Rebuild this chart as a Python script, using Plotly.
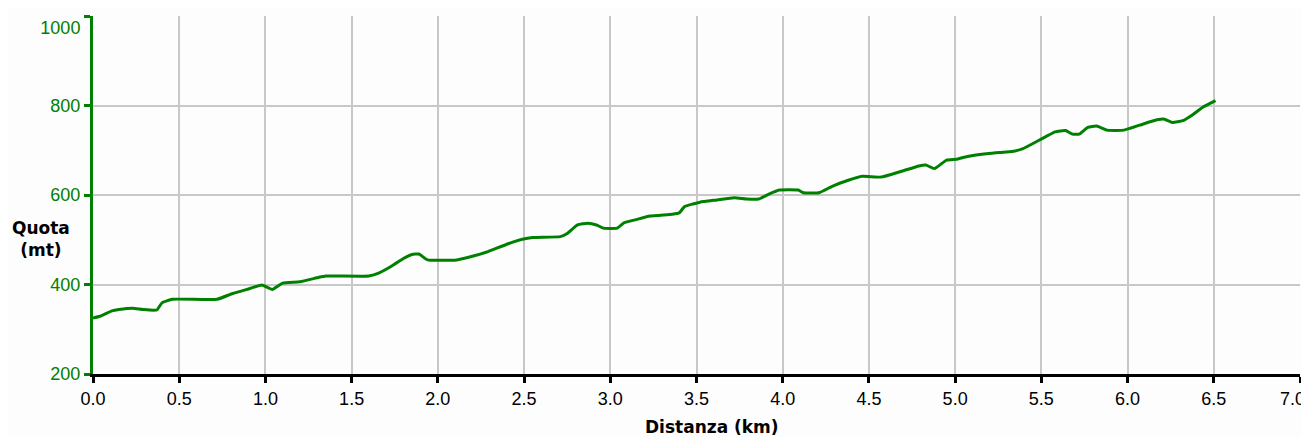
import plotly.graph_objects as go

# Distance (km) and elevation (m) read from the profile
distanza_km = [0.00, 0.04, 0.11, 0.15, 0.23, 0.29, 0.37, 0.40, 0.46, 0.72, 0.81, 0.91, 0.98, 1.04,
               1.10, 1.20, 1.31, 1.35, 1.60, 1.66, 1.74, 1.80, 1.85, 1.89, 1.94, 2.11, 2.20, 2.28,
               2.40, 2.49, 2.55, 2.71, 2.75, 2.81, 2.87, 2.92, 2.96, 3.04, 3.08, 3.15, 3.23, 3.36,
               3.40, 3.43, 3.48, 3.52, 3.62, 3.72, 3.79, 3.86, 3.92, 3.98, 4.09, 4.12, 4.21, 4.29,
               4.38, 4.46, 4.57, 4.68, 4.79, 4.83, 4.88, 4.95, 5.01, 5.07, 5.18, 5.26, 5.33, 5.39,
               5.49, 5.58, 5.64, 5.68, 5.72, 5.77, 5.82, 5.88, 5.98, 6.07, 6.17, 6.21, 6.26, 6.32,
               6.38, 6.44, 6.51]
quota_mt = [325, 329, 341, 344, 347, 344, 343, 359, 367, 367, 380, 391, 399, 389,
            403, 406, 416, 419, 419, 426, 443, 458, 467, 468, 455, 455, 463, 472,
            490, 501, 505, 507, 514, 533, 537, 533, 526, 526, 538, 545, 553, 557,
            560, 574, 580, 584, 589, 594, 591, 591, 602, 611, 611, 605, 605, 620,
            633, 642, 640, 652, 665, 667, 659, 678, 680, 686, 692, 695, 697, 703,
            723, 741, 744, 736, 736, 751, 754, 745, 745, 756, 768, 770, 762, 766,
            780, 797, 811]

x_ticks = [0.0, 0.5, 1.0, 1.5, 2.0, 2.5, 3.0, 3.5, 4.0, 4.5, 5.0, 5.5, 6.0, 6.5, 7.0]
x_tick_labels = ["0.0", "0.5", "1.0", "1.5", "2.0", "2.5", "3.0", "3.5", "4.0", "4.5",
                 "5.0", "5.5", "6.0", "6.5", "7.0\u00a0\u00a0\u00a0"]
y_ticks = [200, 400, 600, 800, 1000]
y_tick_labels = ["200", "400", "600", "800", "<br>1000"]

GREEN = "#008000"
GRID = "#c8c8c8"
TICKFONT = "Liberation Sans, Arial, sans-serif"
BOLDFONT = "DejaVu Sans, Verdana, sans-serif"

fig = go.Figure()
fig.add_trace(go.Scatter(
    x=distanza_km, y=quota_mt, mode="lines",
    line=dict(color=GREEN, width=3, shape="spline", smoothing=0.4),
    hoverinfo="skip", showlegend=False,
))

# page body has an 8px default margin, so the figure is 8px smaller than the window
fig.update_layout(
    width=1301, height=429,
    margin=dict(l=85, r=9, t=8, b=63, autoexpand=False),
    paper_bgcolor="#fdfdfd", plot_bgcolor="#fdfdfd",
    showlegend=False,
)

fig.update_xaxes(
    range=[0, 7], tickvals=x_ticks, ticktext=x_tick_labels,
    showgrid=True, gridcolor=GRID, gridwidth=2,
    showline=True, linecolor="black", linewidth=3,
    ticks="outside", ticklen=6, tickwidth=3, tickcolor="black",
    tickfont=dict(family=TICKFONT, size=18, color="black"),
    ticklabeloverflow="allow", automargin=False,
    zeroline=False,
)
fig.update_yaxes(
    range=[200, 1000], tickvals=y_ticks, ticktext=y_tick_labels,
    showgrid=True, gridcolor=GRID, gridwidth=2,
    showline=True, linecolor=GREEN, linewidth=3,
    ticks="outside", ticklen=6, tickwidth=3, tickcolor=GREEN,
    tickfont=dict(family=TICKFONT, size=18, color=GREEN),
    ticklabeloverflow="allow", automargin=False,
    zeroline=False,
)

fig.add_annotation(
    text="<b>Quota<br>(mt)</b>", xref="paper", yref="y", x=0, y=501, xshift=-52,
    xanchor="center", yanchor="middle", showarrow=False, align="center",
    font=dict(family=BOLDFONT, size=17, color="black"),
)
fig.add_annotation(
    text="<b>Distanza (km)</b>", xref="x", yref="paper", x=3.59, y=0, yshift=-53,
    xanchor="center", yanchor="middle", showarrow=False,
    font=dict(family=BOLDFONT, size=17, color="black"),
)

fig.write_html("out.html")
